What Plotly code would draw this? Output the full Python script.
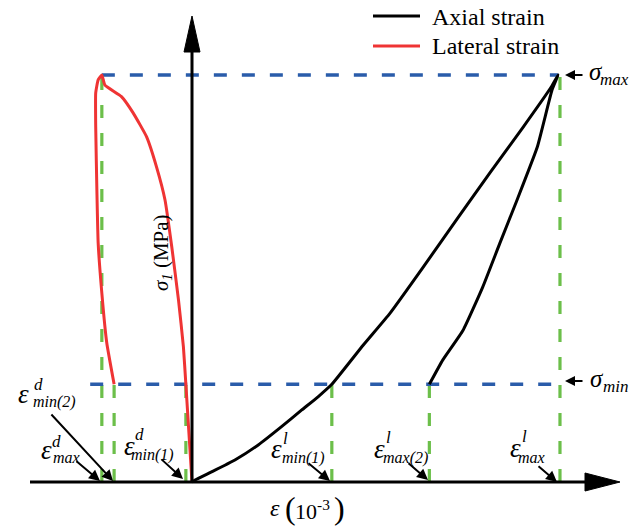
import plotly.graph_objects as go

# ---------------- data (strain in 1e-3, stress in MPa) ----------------
sigma_max = 100.0
sigma_min = 24.0

# characteristic strains
eps_d_max = -1.47
eps_d_min2 = -1.27
eps_d_min1 = -0.10
eps_l_min1 = 2.28
eps_l_max2 = 3.87
eps_l_max = 6.0

# axial strain curve (loading to peak, then unloading)
axial_x = [0.0, 0.05, 0.32, 0.70, 1.08, 1.46, 1.79, 2.06, 2.28, 2.79, 3.23, 3.77, 4.32, 4.86, 5.40, 5.86, 5.97,
           5.87, 5.63, 5.30, 5.02, 4.74, 4.42, 4.09, 3.87]
axial_y = [0.0, 0.5, 2.5, 5.4, 9.1, 13.6, 17.7, 21.0, 24.0, 33.6, 41.5, 52.8, 64.6, 76.0, 87.2, 97.1, 100.0,
           96.3, 82.3, 69.3, 58.7, 47.9, 37.3, 30.0, 24.0]

# lateral strain curve (loading from origin to peak, then unloading)
lateral_x = [0.0, -0.10, -0.14, -0.22, -0.33, -0.44, -0.58, -0.74, -0.96, -1.15, -1.42, -1.47,
             -1.53, -1.57, -1.57, -1.55, -1.53, -1.47, -1.39, -1.27]
lateral_y = [0.0, 24.0, 33.2, 44.7, 57.8, 69.3, 77.5, 84.8, 90.7, 94.7, 97.5, 100.0,
             98.8, 95.6, 87.3, 71.0, 58.7, 46.4, 34.2, 24.0]

# reference line extents
ref_top_x = [eps_d_max, 5.97]
ref_bot_x = [-1.66, eps_l_max]
green_full = [eps_d_max, eps_l_max]
green_short = [eps_d_min2, eps_d_min1, eps_l_min1, eps_l_max2]

# ---------------- layout helpers ----------------
W, H = 640, 527
X0, Y0 = 192.0, 482.0
SX, SY = 61.33, 4.07
xr = [-X0 / SX, (W - X0) / SX]
yr = [(Y0 - H) / SY, Y0 / SY]

def dx(px):
    return (px - X0) / SX

def dy(py):
    return (Y0 - py) / SY

def px_(x):
    return x / W

def py_(y):
    return 1 - y / H

BLUE = "#2a5caa"
GREEN = "#6cbf4a"
RED = "#ef3434"
DASH = "13px,15px"
SERIF = "Liberation Serif, Times New Roman, serif"

fig = go.Figure()

# green verticals
for x in green_full:
    fig.add_trace(go.Scatter(x=[x, x], y=[0, sigma_max], mode="lines",
                             line=dict(color=GREEN, width=3.2, dash=DASH), hoverinfo="skip"))
for x in green_short:
    fig.add_trace(go.Scatter(x=[x, x], y=[0, sigma_min], mode="lines",
                             line=dict(color=GREEN, width=3.2, dash=DASH), hoverinfo="skip"))
# blue horizontals
fig.add_trace(go.Scatter(x=ref_top_x, y=[sigma_max, sigma_max], mode="lines",
                         line=dict(color=BLUE, width=3.5, dash=DASH), hoverinfo="skip"))
fig.add_trace(go.Scatter(x=ref_bot_x, y=[sigma_min, sigma_min], mode="lines",
                         line=dict(color=BLUE, width=3.5, dash=DASH), hoverinfo="skip"))

# curves
fig.add_trace(go.Scatter(x=lateral_x, y=lateral_y, mode="lines", name="Lateral strain",
                         line=dict(color=RED, width=3, shape="spline", smoothing=0.4)))
fig.add_trace(go.Scatter(x=axial_x, y=axial_y, mode="lines", name="Axial strain",
                         line=dict(color="black", width=3, shape="spline", smoothing=0.4)))

shapes = []
# axes
shapes.append(dict(type="line", xref="x", yref="y", x0=dx(30), x1=dx(590), y0=0, y1=0,
                   line=dict(color="black", width=3)))
shapes.append(dict(type="path", xref="x", yref="y",
                   path=f"M{dx(585)},{dy(473)} L{dx(620)},{dy(482)} L{dx(585)},{dy(491)} Z",
                   fillcolor="black", line=dict(color="black", width=1)))
shapes.append(dict(type="line", xref="x", yref="y", x0=0, x1=0, y0=0, y1=dy(48),
                   line=dict(color="black", width=3)))
shapes.append(dict(type="path", xref="x", yref="y",
                   path=f"M{dx(184)},{dy(52)} L{dx(192)},{dy(16)} L{dx(200)},{dy(52)} Z",
                   fillcolor="black", line=dict(color="black", width=1)))
# legend lines
shapes.append(dict(type="line", xref="paper", yref="paper", x0=px_(373), x1=px_(420),
                   y0=py_(16), y1=py_(16), line=dict(color="black", width=3)))
shapes.append(dict(type="line", xref="paper", yref="paper", x0=px_(373), x1=px_(420),
                   y0=py_(46), y1=py_(46), line=dict(color=RED, width=3)))

ann = []

def text(x, y, s, size, xanchor="center", angle=0):
    ann.append(dict(xref="paper", yref="paper", x=px_(x), y=py_(y), text=s, showarrow=False,
                    xanchor=xanchor, yanchor="middle", textangle=angle,
                    font=dict(family=SERIF, size=size, color="black")))

def arrow(x1, y1, x0, y0, size=1.1):
    ann.append(dict(xref="paper", yref="paper", x=px_(x1), y=py_(y1), ax=x0 - x1, ay=y0 - y1,
                    axref="pixel", ayref="pixel", text="", showarrow=True,
                    arrowhead=2, arrowsize=size, arrowwidth=2, arrowcolor="black", standoff=0))

# legend text
text(430, 17, "Axial strain", 24, "left")
text(430, 46, "Lateral strain", 24, "left")

# sigma labels
arrow(565, 75, 584, 75, 1.0)
text(587, 71, "<i>σ</i>", 25, "left")
text(598, 79, "<i>max</i>", 17, "left")
arrow(565, 381, 584, 381, 1.0)
text(588, 378, "<i>σ</i>", 25, "left")
text(601, 386, "<i>min</i>", 17, "left")

# axis labels
text(162, 253, "<i>σ<sub>1</sub></i> (MPa)", 21, "center", -90)
text(268, 508, "<i>ε</i>", 24, "left")
text(283, 508, "(", 32, "left")
text(293, 510, "10<sup>-3</sup>", 22, "left")
text(332, 508, ")", 32, "left")

# strain labels: (eps center, sup, sub, arrow)
def eps_label(ex, ey, sup, sx, sy, sub, bx, by):
    text(ex, ey, "<i>ε</i>", 27, "center")
    text(sx, sy, f"<i>{sup}</i>", 17, "left")
    text(bx, by, f"<i>{sub}</i>", 16, "left")

eps_label(23, 394, "d", 32, 384, "min(2)", 31, 402)
arrow(113, 481, 50, 413)
eps_label(46, 450, "d", 50, 441, "max", 51, 457)
arrow(100, 481, 75, 460)
eps_label(129, 446, "d", 133, 434, "min(1)", 129, 455)
arrow(183, 479, 160, 458)
eps_label(276, 449, "l", 281, 438, "min(1)", 280, 458)
arrow(330, 481, 307, 462)
eps_label(379, 449, "l", 384, 437, "max(2)", 381, 458)
arrow(428, 480, 407, 462)
eps_label(515, 448, "l", 520, 436, "max", 516, 457)
arrow(557, 482, 537, 465)

fig.update_layout(
    width=W, height=H, margin=dict(l=0, r=0, t=0, b=0),
    paper_bgcolor="white", plot_bgcolor="white", showlegend=False,
    xaxis=dict(range=xr, visible=False, fixedrange=True),
    yaxis=dict(range=yr, visible=False, fixedrange=True),
    shapes=shapes, annotations=ann,
)

fig.write_html("out.html", config={"displayModeBar": False},
               post_script="document.body.style.margin='0';document.body.style.padding='0';")
